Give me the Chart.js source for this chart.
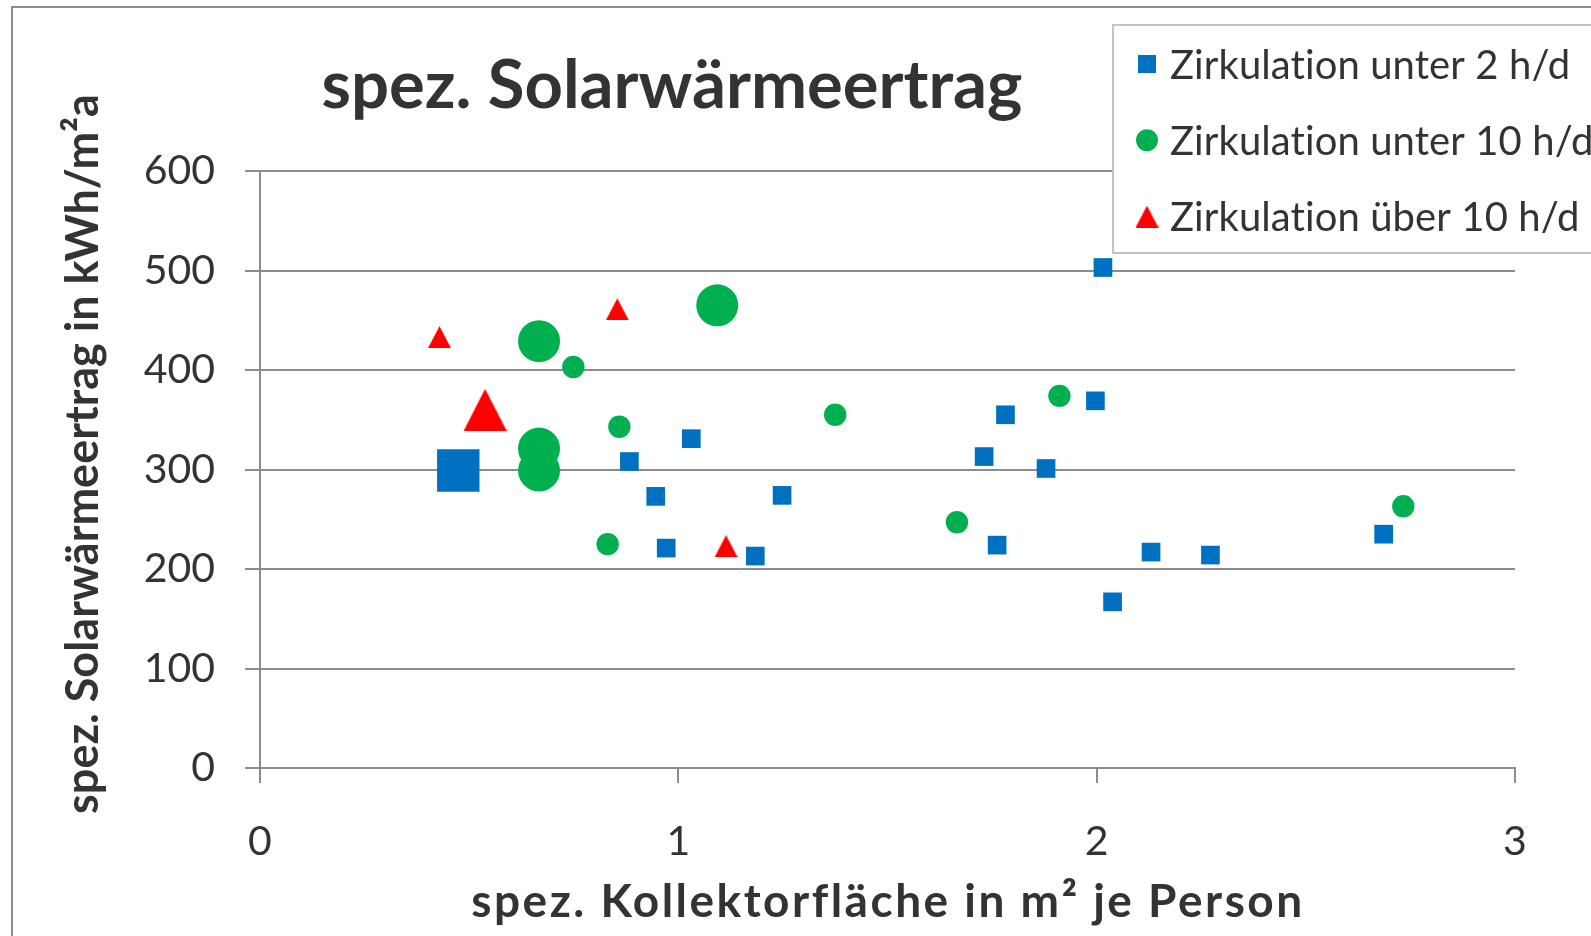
<!DOCTYPE html>
<html>
<head>
<meta charset="utf-8">
<script src="https://cdn.jsdelivr.net/npm/chart.js@4.4.1/dist/chart.umd.min.js"></script>
<style>
  html, body { margin: 0; padding: 0; background: #fff; }
  #wrap { width: 1591px; height: 936px; overflow: hidden; }
</style>
</head>
<body>
<div id="wrap"><canvas id="chart" width="1591" height="936"></canvas></div>
<script>
const chartTitle = 'spez. Solarwärmeertrag';
const xTitle = 'spez. Kollektorfläche in m² je Person';
const yTitle = 'spez. Solarwärmeertrag in kWh/m²a';
const seriesNames = ['Zirkulation unter 2 h/d', 'Zirkulation unter 10 h/d', 'Zirkulation über 10 h/d'];

const xTicks = [0, 1, 2, 3];
const yTicks = [0, 100, 200, 300, 400, 500, 600];

// Zirkulation unter 2 h/d
const under2X = [0.474, 1.031, 0.883, 0.946, 1.248, 0.971, 1.184, 2.015, 1.997, 1.782, 1.731, 1.879, 1.762, 2.130, 2.272, 2.038, 2.686];
const under2Y = [299, 331, 308, 273, 274, 221, 213, 503, 369, 355, 313, 301, 224, 217, 214, 167, 235];
const under2Large = [0];

// Zirkulation unter 10 h/d
const under10X = [0.667, 0.667, 0.667, 1.093, 0.749, 0.859, 1.375, 0.831, 1.666, 1.911, 2.733];
const under10Y = [429, 321, 299, 465, 403, 343, 355, 225, 247, 374, 263];
const under10Large = [0, 1, 2, 3];

// Zirkulation über 10 h/d
const over10X = [0.538, 0.429, 0.854, 1.114];
const over10Y = [360, 433, 461, 223];
const over10Large = [0];

const BLUE = '#0070C0', GREEN = '#00B050', RED = '#FF0000';
const TEXT = '#333333', GRID = '#8c8c8c';
const FONT = 'Lato, "Open Sans", sans-serif';

function pts(xs, ys) {
  return xs.map((x, i) => ({ x: x, y: ys[i] }));
}

// Excel style triangle: as wide as high, centred on the point
function triangle(w, h, color) {
  const c = document.createElement('canvas');
  c.width = w; c.height = h;
  const g = c.getContext('2d');
  g.fillStyle = color;
  g.beginPath();
  g.moveTo(w / 2, 0);
  g.lineTo(w, h);
  g.lineTo(0, h);
  g.closePath();
  g.fill();
  return c;
}
const triSmall = triangle(23, 22, RED);
const triLarge = triangle(43, 42, RED);

function spacing(ctx, v) {
  if ('letterSpacing' in ctx) ctx.letterSpacing = v;
}

// outer frame, titles and the boxed legend
const frame = {
  id: 'frame',
  beforeDraw(chart) {
    const ctx = chart.ctx;
    ctx.save();
    ctx.fillStyle = '#fff';
    ctx.fillRect(0, 0, chart.width, chart.height);
    ctx.strokeStyle = '#8e8e8e';
    ctx.lineWidth = 2;
    ctx.strokeRect(12, 7, 1640, 1000);

    ctx.fillStyle = TEXT;
    ctx.textAlign = 'center';
    ctx.textBaseline = 'alphabetic';
    ctx.font = 'bold 67px ' + FONT;
    ctx.fillText(chartTitle, 672, 108);

    ctx.font = 'bold 46px ' + FONT;
    spacing(ctx, '2.5px');
    ctx.fillText(xTitle, 888, 917);
    spacing(ctx, '0px');

    ctx.font = 'bold 45px ' + FONT;
    ctx.translate(98, 454);
    ctx.rotate(-Math.PI / 2);
    ctx.fillText(yTitle, 0, 0);
    ctx.restore();
  },
  afterDraw(chart) {
    const ctx = chart.ctx;
    ctx.save();
    ctx.fillStyle = '#fff';
    ctx.fillRect(1113, 25, 520, 228);
    ctx.strokeStyle = '#c3c3c3';
    ctx.lineWidth = 2;
    ctx.strokeRect(1113, 25, 520, 228);
    ctx.font = '40px ' + FONT;
    ctx.textAlign = 'left';
    ctx.textBaseline = 'alphabetic';
    spacing(ctx, '0.1px');
    chart.data.datasets.forEach((ds, i) => {
      const y = 64 + i * 76.3;
      const x = 1147;
      ctx.fillStyle = ds.backgroundColor;
      if (i === 0) {
        ctx.fillRect(x - 9, y - 9, 18, 18);
      } else if (i === 1) {
        ctx.beginPath();
        ctx.arc(x, y, 11, 0, Math.PI * 2);
        ctx.fill();
      } else {
        ctx.drawImage(triSmall, x - 11.5, y - 11);
      }
      ctx.fillStyle = TEXT;
      ctx.fillText(ds.label, 1170, y + 14.5);
    });
    ctx.restore();
  }
};

new Chart(document.getElementById('chart'), {
  type: 'scatter',
  data: {
    datasets: [
      {
        label: seriesNames[0],
        data: pts(under2X, under2Y),
        pointStyle: 'rect',
        backgroundColor: BLUE,
        borderWidth: 0,
        pointRadius: c => under2Large.includes(c.dataIndex) ? 30 : 13.2
      },
      {
        label: seriesNames[1],
        data: pts(under10X, under10Y),
        pointStyle: 'circle',
        backgroundColor: GREEN,
        borderWidth: 0,
        pointRadius: c => under10Large.includes(c.dataIndex) ? 21 : 11.2
      },
      {
        label: seriesNames[2],
        data: pts(over10X, over10Y),
        pointStyle: c => over10Large.includes(c.dataIndex) ? triLarge : triSmall,
        backgroundColor: RED,
        borderWidth: 0,
        pointRadius: 10
      }
    ]
  },
  options: {
    responsive: false,
    animation: false,
    events: [],
    layout: { padding: { top: 171, right: 76, left: 0, bottom: 0 } },
    plugins: { legend: { display: false }, title: { display: false }, tooltip: { enabled: false } },
    scales: {
      x: {
        type: 'linear', min: 0, max: 3,
        afterBuildTicks: s => { s.ticks = xTicks.map(v => ({ value: v })); },
        afterFit: s => { s.height = 168; },
        ticks: { color: TEXT, font: { family: FONT, size: 41 }, padding: 34 },
        grid: { drawOnChartArea: false, drawTicks: true, tickLength: 15, color: GRID, lineWidth: 2 },
        border: { color: GRID, width: 2 }
      },
      y: {
        min: 0, max: 600,
        afterBuildTicks: s => { s.ticks = yTicks.map(v => ({ value: v })); },
        afterFit: s => { s.width = 260; },
        ticks: { color: TEXT, font: { family: FONT, size: 41 }, padding: 30 },
        grid: { color: GRID, lineWidth: 2, tickLength: 15 },
        border: { color: GRID, width: 2 }
      }
    }
  },
  plugins: [frame]
});
</script>
</body>
</html>
